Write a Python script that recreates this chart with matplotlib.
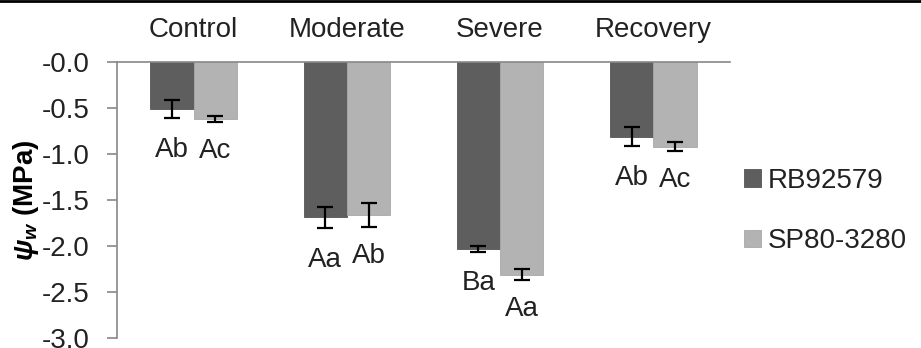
import matplotlib
matplotlib.use('Agg')
import matplotlib.pyplot as plt
from matplotlib.lines import Line2D
import numpy as np

plt.rcParams['font.family'] = ['Liberation Sans', 'DejaVu Sans']
plt.rcParams['mathtext.fontset'] = 'custom'
plt.rcParams['mathtext.bf'] = 'Liberation Sans:bold:italic'
plt.rcParams['mathtext.it'] = 'Liberation Sans:italic'

# data
stages = ['Control', 'Moderate', 'Severe', 'Recovery']
rb_vals = [-0.51, -1.69, -2.03, -0.81]
rb_err = [0.10, 0.11, 0.03, 0.10]
sp_vals = [-0.62, -1.66, -2.31, -0.92]
sp_err = [0.03, 0.13, 0.06, 0.05]
rb_letters = ['Ab', 'Aa', 'Ba', 'Ab']
sp_letters = ['Ac', 'Ab', 'Aa', 'Ac']
yticks = [0, -0.5, -1.0, -1.5, -2.0, -2.5, -3.0]
ytick_labels = ['-0.0', '-0.5', '-1.0', '-1.5', '-2.0', '-2.5', '-3.0']

fig = plt.figure(figsize=(9.21, 3.48), dpi=100)
ax = fig.add_axes([117/921, 10/348, 613/921, 276/348])

x = np.arange(len(stages))
w = 0.283
dark = '#5e5e5e'
light = '#b3b3b3'
fs = 20
ax.bar(x - w/2, rb_vals, w, color=dark, edgecolor='#555555', linewidth=0.6, label='RB92579')
ax.bar(x + w/2, sp_vals, w, color=light, edgecolor='#a8a8a8', linewidth=0.6, label='SP80-3280')
ax.errorbar(x - w/2, rb_vals, yerr=rb_err, fmt='none', ecolor='black', elinewidth=1.6, capsize=6, capthick=1.6)
ax.errorbar(x + w/2, sp_vals, yerr=sp_err, fmt='none', ecolor='black', elinewidth=1.6, capsize=6, capthick=1.6)

# significance letters under the error bars
for i in range(len(stages)):
    ax.annotate(rb_letters[i], (x[i] - w/2, rb_vals[i] - rb_err[i]), xytext=(0, -23),
                textcoords='offset points', ha='center', va='center', fontsize=fs, color='#222222')
    ax.annotate(sp_letters[i], (x[i] + w/2, sp_vals[i] - sp_err[i]), xytext=(0, -21),
                textcoords='offset points', ha='center', va='center', fontsize=fs, color='#222222')

ax.set_xlim(-0.5, 3.5)
ax.set_ylim(-3.0, 0)
ax.set_yticks(yticks)
ax.set_yticklabels(ytick_labels)
ax.tick_params(axis='y', direction='out', length=7, width=1.2, color='#888888', pad=13,
               labelsize=fs, labelcolor='#222222')
ax.xaxis.tick_top()
ax.set_xticks(x)
ax.set_xticklabels(stages)
ax.tick_params(axis='x', length=0, pad=14, labelsize=fs, labelcolor='#222222')
for s in ['right', 'bottom']:
    ax.spines[s].set_visible(False)
ax.spines['left'].set_color('#888888')
ax.spines['left'].set_linewidth(1.2)
ax.spines['top'].set_color('#888888')
ax.spines['top'].set_linewidth(1.2)

ax.set_ylabel(r'$\mathbf{\psi_w}$ (MPa)', fontsize=fs, fontweight='bold', labelpad=0)

ax.legend(loc='center left', bbox_to_anchor=(1.0, 0.46), frameon=False, fontsize=fs,
          handlelength=0.6, handleheight=0.6, handletextpad=0.25, labelspacing=1.25,
          borderaxespad=0.1, labelcolor='#222222')

# black rule along the top edge of the image
fig.add_artist(Line2D([0, 1], [0.997, 0.997], transform=fig.transFigure, color='black', linewidth=2))

fig.savefig('out.png', dpi=100)
